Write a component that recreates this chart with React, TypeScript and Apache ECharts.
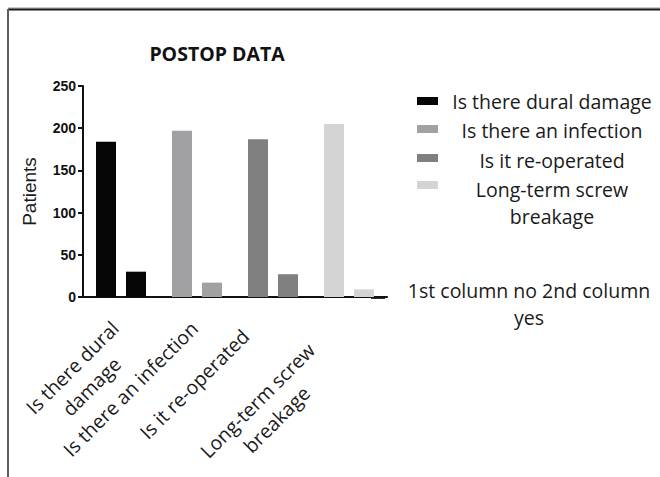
import React, { useEffect, useRef } from 'react';
import * as echarts from 'echarts';

const chartTitle = 'POSTOP DATA';
const yAxisName = 'Patients';
const categories = ['Is there dural damage', 'Is there an infection', 'Is it re-operated', 'Long-term screw breakage'];
const axisLabelLines = [['Is there dural', 'damage'], ['Is there an infection'], ['Is it re-operated'], ['Long-term screw', 'breakage']];
const legendLines = [['Is there dural damage'], ['Is there an infection'], ['Is it re-operated'], ['Long-term screw', 'breakage']];
const barColors = ['#050505', '#a1a1a4', '#808080', '#d4d4d4'];
const noValues = [184, 197, 187, 205];
const yesValues = [30, 17, 27, 9];
const yMin = 0;
const yMax = 250;
const yInterval = 50;
const noteLines = ['1st column no 2nd column', 'yes'];

const FONT = '"Open Sans", "Noto Sans", sans-serif';
const TXT = '19.5px';
// per-label nudges [top, right, bottom, left] to follow the reference's label placement
const labelPadding = [[22, 6, 0, 0], [0, 4, 0, 0], [0, 27, 24, 0], [8, 44, 0, 0]];

export default function App() {
  const ref = useRef<HTMLDivElement>(null);
  useEffect(() => {
    document.body.style.margin = '0';
    const chart = echarts.init(ref.current!, null, { renderer: 'svg' });
    const legendRectY = [97, 125, 154, 181];
    const legendTextY = [101, 130, 160, 203];
    const graphics: any[] = [
      { type: 'line', shape: { x1: 8, y1: 8, x2: 660, y2: 8 }, style: { stroke: '#9a9a9a', lineWidth: 1 } },
      { type: 'line', shape: { x1: 8, y1: 9.5, x2: 660, y2: 9.5 }, style: { stroke: '#1a1a1a', lineWidth: 2 } },
      { type: 'line', shape: { x1: 8, y1: 9, x2: 8, y2: 477 }, style: { stroke: '#5e5e5e', lineWidth: 2 } },
    ];
    legendLines.forEach((lines, i) => {
      graphics.push({ type: 'rect', shape: { x: 417, y: legendRectY[i], width: 21, height: 8 }, style: { fill: barColors[i] } });
      graphics.push({
        type: 'text',
        style: {
          text: lines.join('\n'), x: 552, y: legendTextY[i], textAlign: 'center', textVerticalAlign: 'middle',
          font: `${TXT} ${FONT}`, fill: '#1a1a1a', lineHeight: 27,
        },
      });
    });
    graphics.push({ type: 'line', shape: { x1: 371, y1: 298, x2: 385, y2: 298 }, style: { stroke: '#333', lineWidth: 2 } });
    graphics.push({
      type: 'text',
      style: {
        text: noteLines.join('\n'), x: 529, y: 304, textAlign: 'center', textVerticalAlign: 'middle',
        font: `${TXT} ${FONT}`, fill: '#1a1a1a', lineHeight: 27,
      },
    });

    const rich: any = {};
    labelPadding.forEach((pad, i) => {
      rich['c' + i] = { align: 'center', fontFamily: FONT, fontSize: 19.5, color: '#1a1a1a', lineHeight: 27, padding: pad };
    });

    chart.setOption({
      animation: false,
      title: {
        text: chartTitle, left: 212, top: 38, textAlign: 'center',
        textStyle: { fontFamily: FONT, fontWeight: 'bold', fontSize: 19.5, color: '#111' },
      },
      grid: { left: 83, right: 273, top: 86, bottom: 180, containLabel: false, outerBoundsMode: 'none' },
      xAxis: {
        type: 'category',
        data: categories,
        axisLine: { lineStyle: { color: '#111', width: 2 } },
        axisTick: { alignWithLabel: true, length: 5, lineStyle: { color: '#111', width: 2 } },
        axisLabel: {
          rotate: 45, interval: 0, margin: 25, color: '#1a1a1a', fontFamily: FONT, fontSize: 19.5,
          formatter: (_v: string, idx: number) => axisLabelLines[idx].map((l) => `{c${idx}|${l}}`).join('\n'),
          rich,
        },
      },
      yAxis: {
        type: 'value', min: yMin, max: yMax, interval: yInterval,
        name: yAxisName, nameLocation: 'middle', nameGap: 44, nameRotate: 90,
        nameTextStyle: { fontFamily: '"Liberation Sans", Arial, sans-serif', fontSize: 19, color: '#1a1a1a' },
        splitLine: { show: false },
        axisLine: { show: true, lineStyle: { color: '#111', width: 2 } },
        axisTick: { show: true, length: 5, lineStyle: { color: '#111', width: 2 } },
        axisLabel: { fontFamily: '"Liberation Sans", Arial, sans-serif', fontWeight: 'bold', fontSize: 14, color: '#111', margin: 7 },
      },
      series: [
        {
          name: 'no', type: 'bar', data: noValues, barWidth: 20, barGap: '50%',
          itemStyle: { color: (p: any) => barColors[p.dataIndex] },
        },
        {
          name: 'yes', type: 'bar', data: yesValues, barWidth: 20, barGap: '50%',
          itemStyle: { color: (p: any) => barColors[p.dataIndex] },
        },
      ],
      graphic: graphics,
    });
    return () => chart.dispose();
  }, []);
  return <div ref={ref} style={{ width: 660, height: 477, background: '#fff' }} />;
}
